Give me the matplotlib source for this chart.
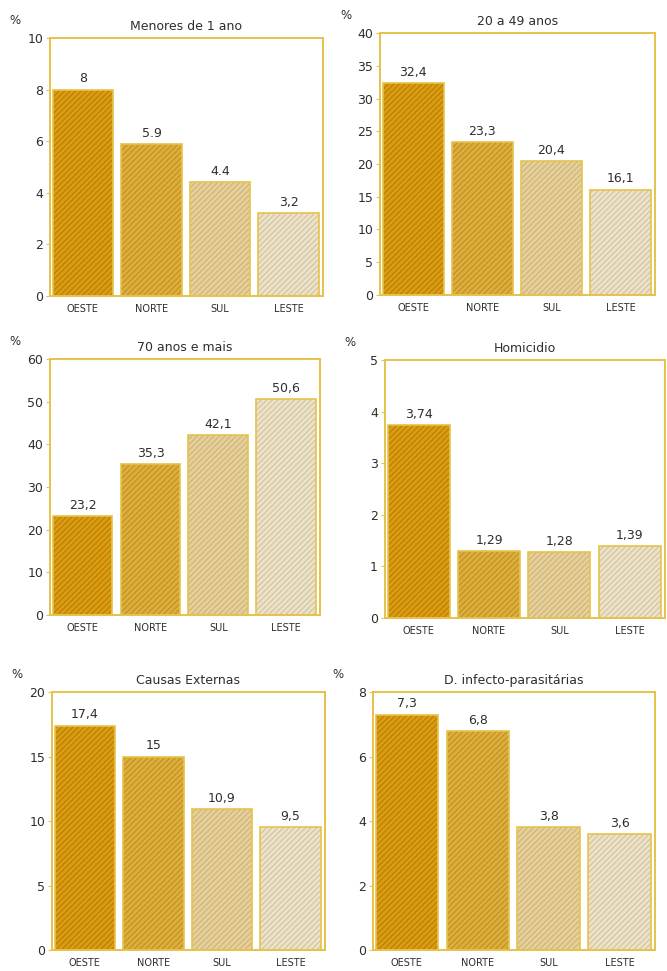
import matplotlib.pyplot as plt

# regiões e valores (%) por painel
regioes = ["OESTE", "NORTE", "SUL", "LESTE"]

titulos = ["Menores de 1 ano", "20 a 49 anos", "70 anos e mais",
           "Homicidio", "Causas Externas", "D. infecto-parasitárias"]

menores_1 = [8, 5.9, 4.4, 3.2]
adultos_20_49 = [32.4, 23.3, 20.4, 16.1]
idosos_70 = [23.2, 35.3, 42.1, 50.6]
homicidio = [3.74, 1.29, 1.28, 1.39]
causas_externas = [17.4, 15, 10.9, 9.5]
infecto_parasitarias = [7.3, 6.8, 3.8, 3.6]

rotulos_menores_1 = ["8", "5.9", "4.4", "3,2"]
rotulos_20_49 = ["32,4", "23,3", "20,4", "16,1"]
rotulos_70 = ["23,2", "35,3", "42,1", "50,6"]
rotulos_homicidio = ["3,74", "1,29", "1,28", "1,39"]
rotulos_externas = ["17,4", "15", "10,9", "9,5"]
rotulos_infecto = ["7,3", "6,8", "3,8", "3,6"]

ylims = [10, 40, 60, 5, 20, 8]
ypassos = [2, 5, 10, 1, 5, 2]

valores = [menores_1, adultos_20_49, idosos_70, homicidio, causas_externas, infecto_parasitarias]
rotulos = [rotulos_menores_1, rotulos_20_49, rotulos_70, rotulos_homicidio,
           rotulos_externas, rotulos_infecto]

# estilo
cor_fundo = ["#d99c12", "#dcae3e", "#e6cf98", "#ede2c6"]
cor_hachura = ["#b87a00", "#bf8c1c", "#c9b07a", "#cbbfa2"]
cor_moldura = "#e6c24a"
cor_texto = "#2e2e2e"

# posições dos eixos em fração da figura (esq, base, larg, alt)
caixas = [
    (0.075, 0.6952, 0.409, 0.2657),
    (0.570, 0.6962, 0.412, 0.2698),
    (0.075, 0.3666, 0.405, 0.2636),
    (0.577, 0.3635, 0.420, 0.2657),
    (0.078, 0.0216, 0.409, 0.2657),
    (0.559, 0.0216, 0.423, 0.2657),
]

plt.rcParams["font.family"] = ["DejaVu Sans"]
plt.rcParams["hatch.linewidth"] = 0.7

fig = plt.figure(figsize=(6.67, 9.71), dpi=100)

x = list(range(len(regioes)))
largura = 0.88

for i in range(6):
    ax = fig.add_axes(caixas[i])
    vals = valores[i]

    # preenchimento hachurado
    ax.bar(x, vals, largura, color=cor_fundo, edgecolor=cor_hachura,
           hatch="//////", linewidth=0)
    # contorno das barras
    ax.bar(x, vals, largura, fill=False, edgecolor=cor_moldura, linewidth=1.2)

    for xi, v, r in zip(x, vals, rotulos[i]):
        ax.annotate(r, (xi, v), xytext=(0, 3), textcoords="offset points",
                    ha="center", va="bottom", fontsize=9, color=cor_texto)

    ax.set_xlim(-0.48, 3.5)
    ax.set_ylim(0, ylims[i])
    ax.set_yticks(range(0, ylims[i] + 1, ypassos[i]))
    ax.set_xticks(x)
    ax.set_xticklabels(regioes, fontsize=7, color=cor_texto)
    ax.tick_params(axis="y", labelsize=9, labelcolor=cor_texto, length=3,
                   color=cor_moldura, pad=2)
    ax.tick_params(axis="x", length=0, pad=6)

    for s in ax.spines.values():
        s.set_color(cor_moldura)
        s.set_linewidth(1.4)

    ax.set_title(titulos[i], fontsize=9, color=cor_texto, pad=6)
    ax.annotate("%", (0, 1), xycoords="axes fraction", xytext=(-25, 8),
                textcoords="offset points", fontsize=8.5, color=cor_texto,
                ha="center", va="bottom")

fig.savefig("out.png", dpi=100, facecolor="white")
